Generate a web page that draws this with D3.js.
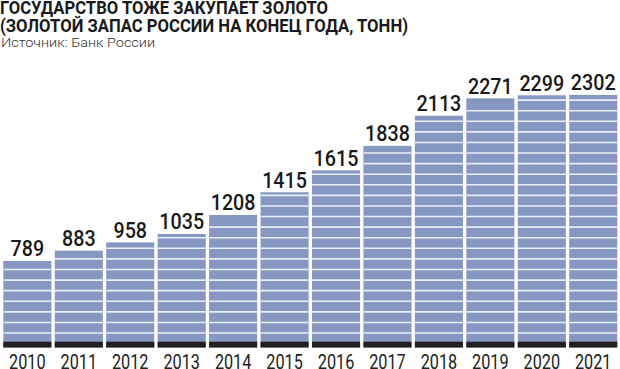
<!DOCTYPE html>
<html>
<head>
<meta charset="utf-8">
<script src="https://cdn.jsdelivr.net/npm/d3@7"></script>
<style>
  body { margin: 0; background: #fff; }
  svg { display: block; }
</style>
</head>
<body>
<div id="chart"></div>
<script>
// data
var years = ["2010", "2011", "2012", "2013", "2014", "2015", "2016", "2017", "2018", "2019", "2020", "2021"];
var gold = [789, 883, 958, 1035, 1208, 1415, 1615, 1838, 2113, 2271, 2299, 2302];
var titleLines = ["ГОСУДАРСТВО ТОЖЕ ЗАКУПАЕТ ЗОЛОТО", "(ЗОЛОТОЙ ЗАПАС РОССИИ НА КОНЕЦ ГОДА, ТОНН)"];
var source = "Источник: Банк России";

var width = 620, height = 369;
var barColor = "#8698c2";
var stripeColor = "#e8edf6";
var baseColor = "#231f20";
var font = "Roboto, sans-serif";

var svg = d3.select("#chart").append("svg")
  .attr("width", width)
  .attr("height", height);

var data = years.map(function (y, i) { return {year: y, value: gold[i]}; });

var x = d3.scaleBand()
  .domain(years)
  .range([3.3, 617.3])
  .paddingInner(0.065)
  .paddingOuter(0);

var y = d3.scaleLinear()
  .domain([0, 2400])
  .range([347.5, 84.2]);

// titles (condensed by squeezing the glyphs)
svg.selectAll(".title")
  .data(titleLines)
  .enter()
  .append("text")
  .attr("class", "title")
  .attr("x", 0)
  .attr("y", function (d, i) { return 13.5 + i * 18.7; })
  .attr("textLength", function (d, i) { return i == 0 ? 328 : 408; })
  .attr("lengthAdjust", "spacingAndGlyphs")
  .style("font-family", font)
  .style("font-weight", "bold")
  .style("font-size", "17.5px")
  .style("fill", "#1a1a1a")
  .text(function (d) { return d; });

svg.append("text")
  .attr("x", 1)
  .attr("y", 46.5)
  .attr("textLength", 154)
  .attr("lengthAdjust", "spacingAndGlyphs")
  .style("font-family", font)
  .style("font-weight", 300)
  .style("font-size", "13px")
  .style("fill", "#333")
  .text(source);

// bars
var bars = svg.append("g").selectAll("g")
  .data(data)
  .enter()
  .append("g");

bars.append("rect")
  .attr("x", function (d) { return x(d.year); })
  .attr("y", function (d) { return y(d.value); })
  .attr("width", x.bandwidth())
  .attr("height", function (d) { return y(0) - y(d.value); })
  .attr("fill", barColor);

// white stripes across each bar
var stripeVals = d3.range(132, 2400, 96.5);
bars.each(function (d) {
  d3.select(this).selectAll("line")
    .data(stripeVals.filter(function (v) { return y(v) > y(d.value) + 2; }))
    .enter()
    .append("line")
    .attr("x1", x(d.year))
    .attr("x2", x(d.year) + x.bandwidth())
    .attr("y1", function (v) { return y(v); })
    .attr("y2", function (v) { return y(v); })
    .style("stroke", stripeColor)
    .style("stroke-width", 1.6);
});

// dark base band
bars.append("rect")
  .attr("x", function (d) { return x(d.year); })
  .attr("y", y(53))
  .attr("width", x.bandwidth())
  .attr("height", y(0) - y(53))
  .attr("fill", baseColor);

// value labels
bars.append("text")
  .attr("x", function (d) { return x(d.year) + x.bandwidth() / 2; })
  .attr("y", function (d) { return y(d.value) - 4.5; })
  .attr("text-anchor", "middle")
  .attr("textLength", function (d) { return String(d.value).length * 11.2; })
  .attr("lengthAdjust", "spacingAndGlyphs")
  .style("font-family", font)
  .style("font-weight", 500)
  .style("font-size", "22.5px")
  .style("fill", "#1a1a1a")
  .text(function (d) { return d.value; });

// year axis labels
svg.append("g").selectAll("text")
  .data(years)
  .enter()
  .append("text")
  .attr("x", function (d) { return x(d) + x.bandwidth() / 2; })
  .attr("y", 368.5)
  .attr("text-anchor", "middle")
  .attr("textLength", 36.5)
  .attr("lengthAdjust", "spacingAndGlyphs")
  .style("font-family", font)
  .style("font-weight", 400)
  .style("font-size", "20.5px")
  .style("fill", "#222")
  .text(function (d) { return d; });
</script>
</body>
</html>
